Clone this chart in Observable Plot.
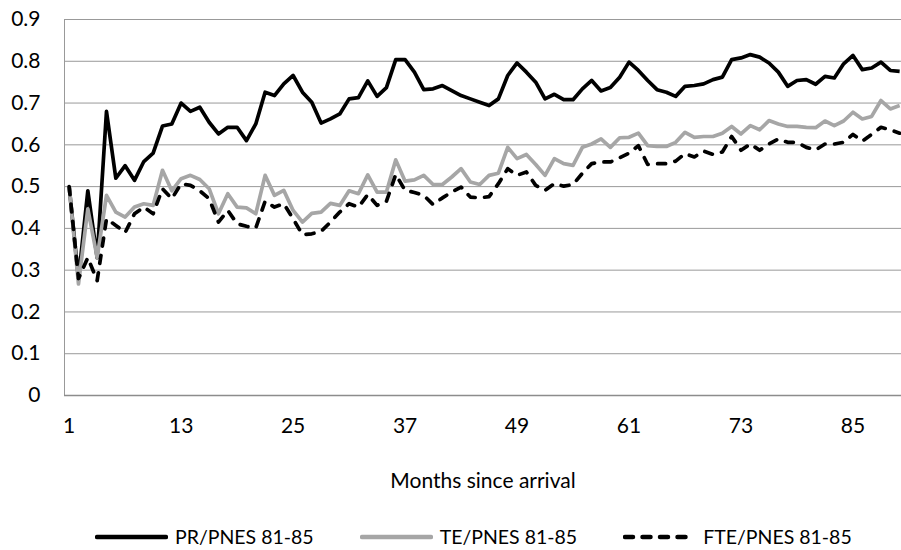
<!DOCTYPE html>
<html><head><meta charset="utf-8">
<script src="https://cdn.jsdelivr.net/npm/d3@7"></script>
<script src="https://cdn.jsdelivr.net/npm/@observablehq/plot@0.6"></script>
<style>
html,body{margin:0;padding:0;background:#fff;}
body{width:901px;height:550px;position:relative;overflow:hidden;font-family:Lato,"Open Sans",sans-serif;color:#000;}
#legend{position:absolute;left:95px;top:522px;width:800px;display:flex;flex-wrap:nowrap;align-items:center;font-size:19.5px;line-height:30px;white-space:nowrap;}
.item{display:flex;align-items:center;margin-right:46px;flex:none;white-space:nowrap;}
.item svg{margin-right:7px;flex:none;}
</style></head><body>
<div id="chart"></div>
<div id="legend"></div>
<script>
const seriesNames = ["PR/PNES 81-85", "TE/PNES 81-85", "FTE/PNES 81-85"];
const months = [
  1,2,3,4,5,6,7,8,9,10,11,12,13,14,15,16,17,18,19,20,21,22,23,24,25,26,27,28,29,30,
  31,32,33,34,35,36,37,38,39,40,41,42,43,44,45,46,47,48,49,50,51,52,53,54,55,56,57,58,59,60,
  61,62,63,64,65,66,67,68,69,70,71,72,73,74,75,76,77,78,79,80,81,82,83,84,85,86,87,88,89,90];
const pr = [
  0.50,0.28,0.49,0.33,0.68,0.52,0.55,0.515,0.56,0.58,0.645,0.65,0.70,0.68,0.69,
  0.654,0.626,0.642,0.642,0.61,0.65,0.726,0.718,0.746,0.766,0.726,0.702,0.652,0.662,0.674,
  0.71,0.713,0.753,0.716,0.737,0.804,0.804,0.774,0.732,0.734,0.742,0.73,0.718,0.71,0.702,
  0.694,0.71,0.766,0.796,0.774,0.75,0.71,0.721,0.708,0.708,0.734,0.754,0.729,0.737,0.762,
  0.798,0.778,0.754,0.732,0.726,0.716,0.74,0.742,0.746,0.756,0.762,0.804,0.808,0.816,0.81,
  0.796,0.774,0.74,0.754,0.756,0.745,0.764,0.76,0.794,0.814,0.78,0.784,0.798,0.778,0.776];
const te = [
  0.50,0.267,0.447,0.33,0.479,0.439,0.427,0.451,0.459,0.455,0.539,0.49,0.519,0.527,0.517,
  0.495,0.435,0.483,0.451,0.449,0.435,0.527,0.479,0.491,0.443,0.415,0.436,0.439,0.46,0.455,
  0.49,0.483,0.528,0.487,0.487,0.564,0.513,0.516,0.527,0.505,0.505,0.523,0.543,0.511,0.505,
  0.527,0.532,0.594,0.567,0.577,0.553,0.527,0.567,0.555,0.551,0.594,0.602,0.614,0.594,0.617,
  0.618,0.628,0.598,0.596,0.596,0.606,0.63,0.618,0.62,0.62,0.628,0.644,0.626,0.646,0.636,
  0.658,0.65,0.644,0.644,0.642,0.641,0.657,0.646,0.657,0.678,0.662,0.668,0.706,0.686,0.694];
const fte = [
  0.50,0.28,0.33,0.275,0.423,0.407,0.39,0.435,0.451,0.435,0.495,0.471,0.507,0.503,0.49,
  0.471,0.415,0.443,0.411,0.405,0.401,0.465,0.451,0.459,0.423,0.385,0.387,0.393,0.415,0.439,
  0.459,0.451,0.481,0.455,0.465,0.529,0.491,0.486,0.479,0.457,0.473,0.487,0.499,0.475,0.473,
  0.476,0.507,0.543,0.527,0.535,0.503,0.491,0.507,0.501,0.505,0.532,0.555,0.559,0.559,0.569,
  0.58,0.598,0.553,0.555,0.555,0.561,0.579,0.571,0.585,0.577,0.583,0.62,0.587,0.602,0.587,
  0.602,0.614,0.606,0.606,0.594,0.588,0.602,0.602,0.606,0.625,0.609,0.625,0.642,0.636,0.628];
const xTicks = [1, 13, 25, 37, 49, 61, 73, 85];
const yTicks = [0, 0.1, 0.2, 0.3, 0.4, 0.5, 0.6, 0.7, 0.8, 0.9];
const xLabel = "Months since arrival";

const styles = [
  {stroke: "#000000", dash: null},
  {stroke: "#a6a6a6", dash: null},
  {stroke: "#000000", dash: "8 9.5"}
];
const seriesValues = [pr, te, fte];
const rows = seriesValues.map((vals, s) => months.map((m, i) => ({month: m, value: vals[i], series: seriesNames[s]})));
const xDomain = [0.5, 90.2];

const chart = Plot.plot({
  width: 901,
  height: 505,
  marginLeft: 64,
  marginRight: 0,
  marginTop: 19,
  marginBottom: 110,
  style: {fontFamily: "Lato, 'Open Sans', sans-serif", fontSize: "21px", color: "#000", background: "#fff"},
  x: {domain: xDomain},
  y: {domain: [0, 0.9]},
  marks: [
    Plot.gridY(yTicks, {stroke: "#999", strokeOpacity: 1, strokeWidth: 1}),
    Plot.ruleX([xDomain[0]], {stroke: "#999", strokeWidth: 1}),
    Plot.ruleY([0], {stroke: "#8c8c8c", strokeWidth: 1.3}),
    Plot.axisY(yTicks, {tickSize: 0, tickPadding: 24, tickFormat: d => String(d), fontSize: 21, label: null}),
    Plot.axisX(xTicks, {tickSize: 0, tickPadding: 23, fontSize: 21, label: xLabel, labelAnchor: "center", labelArrow: "none", labelOffset: 92}),
    ...rows.map((data, s) => Plot.line(data, {
      x: "month", y: "value",
      stroke: styles[s].stroke, strokeWidth: 3.7,
      strokeDasharray: styles[s].dash || undefined,
      strokeLinecap: styles[s].dash ? "round" : "butt",
      strokeLinejoin: "round"
    }))
  ]
});
document.getElementById("chart").appendChild(chart);

const legend = document.getElementById("legend");
seriesNames.forEach((name, s) => {
  const item = document.createElement("div");
  item.className = "item";
  const dash = styles[s].dash ? ` stroke-dasharray="${styles[s].dash}" stroke-linecap="round"` : ` stroke-linecap="round"`;
  item.innerHTML = `<svg width="73" height="10"><line x1="2" y1="5" x2="71" y2="5" stroke="${styles[s].stroke}" stroke-width="4.5"${dash}/></svg><span>${name}</span>`;
  legend.appendChild(item);
});
</script>
</body></html>
